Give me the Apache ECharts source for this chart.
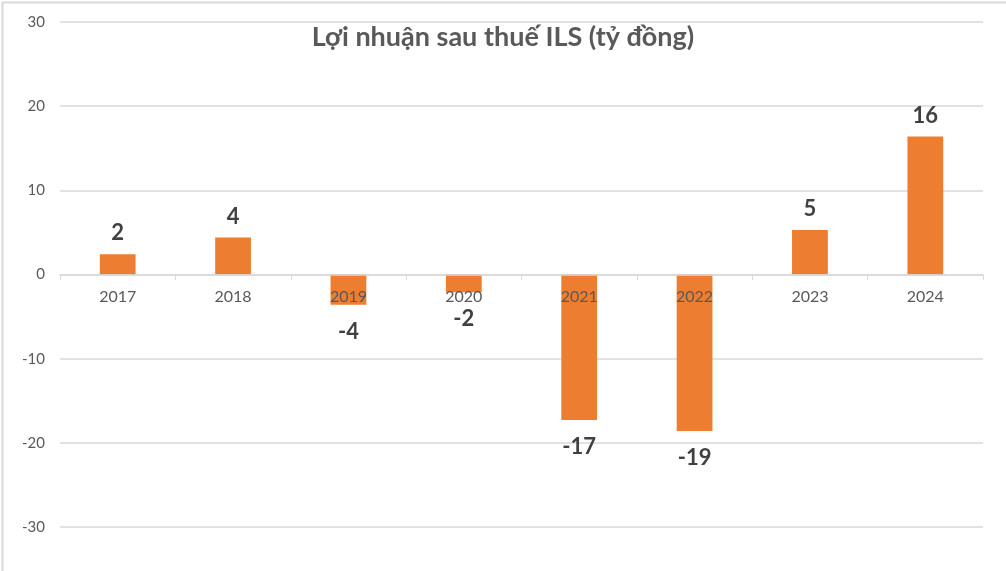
<!DOCTYPE html>
<html>
<head>
<meta charset="utf-8">
<script src="https://cdn.jsdelivr.net/npm/echarts@6/dist/echarts.min.js"></script>
<style>
html,body{margin:0;padding:0;background:#fff;}
#c{width:1006px;height:571px;}
</style>
</head>
<body>
<div id="c"></div>
<script>
const categories = ['2017','2018','2019','2020','2021','2022','2023','2024'];
const profit = [2.4, 4.4, -3.6, -2.1, -17.3, -18.6, 5.3, 16.4];
const yTicks = { min: -30, max: 30, interval: 10 };
const titleText = 'Lợi nhuận sau thuế ILS (tỷ đồng)';

const chart = echarts.init(document.getElementById('c'));
const font = 'Lato, "Open Sans", "Noto Sans", sans-serif';
chart.setOption({
  animation: false,
  backgroundColor: '#fff',
  title: {
    text: titleText, left: 'center', top: 19,
    textStyle: { fontFamily: font, fontSize: 27, fontWeight: 'bold', color: '#595959' }
  },
  graphic: [{
    type: 'rect', left: 0, top: 0, z: -1,
    shape: { width: 1005, height: 570 },
    style: { fill: 'none', stroke: '#d9d9d9', lineWidth: 2 }
  }],
  grid: { left: 60, right: 23, top: 22, bottom: 44, containLabel: false },
  xAxis: {
    type: 'category', data: categories, z: 5,
    position: 'bottom', offset: -252,
    axisLine: { onZero: false, lineStyle: { color: '#d9d9d9', width: 1.5 } },
    axisTick: { show: true, length: 5, lineStyle: { color: '#d9d9d9' } },
    axisLabel: { color: '#595959', fontFamily: font, fontSize: 16, margin: 14 }
  },
  yAxis: {
    type: 'value', min: yTicks.min, max: yTicks.max, interval: yTicks.interval,
    axisLine: { show: false }, axisTick: { show: false },
    axisLabel: { color: '#595959', fontFamily: font, fontSize: 15, margin: 15 },
    splitLine: { lineStyle: { color: '#d9d9d9', width: 1.5 } }
  },
  series: [{
    type: 'bar', barWidth: '31%',
    itemStyle: { color: '#ED7D31' },
    data: profit.map(v => ({
      value: v,
      label: {
        show: true, position: v >= 0 ? 'top' : 'bottom', distance: v >= 0 ? 10 : 16,
        formatter: p => String(Math.round(p.value)),
        color: '#404040', fontFamily: font, fontSize: 22, fontWeight: 'bold'
      }
    }))
  }]
});
</script>
</body>
</html>
